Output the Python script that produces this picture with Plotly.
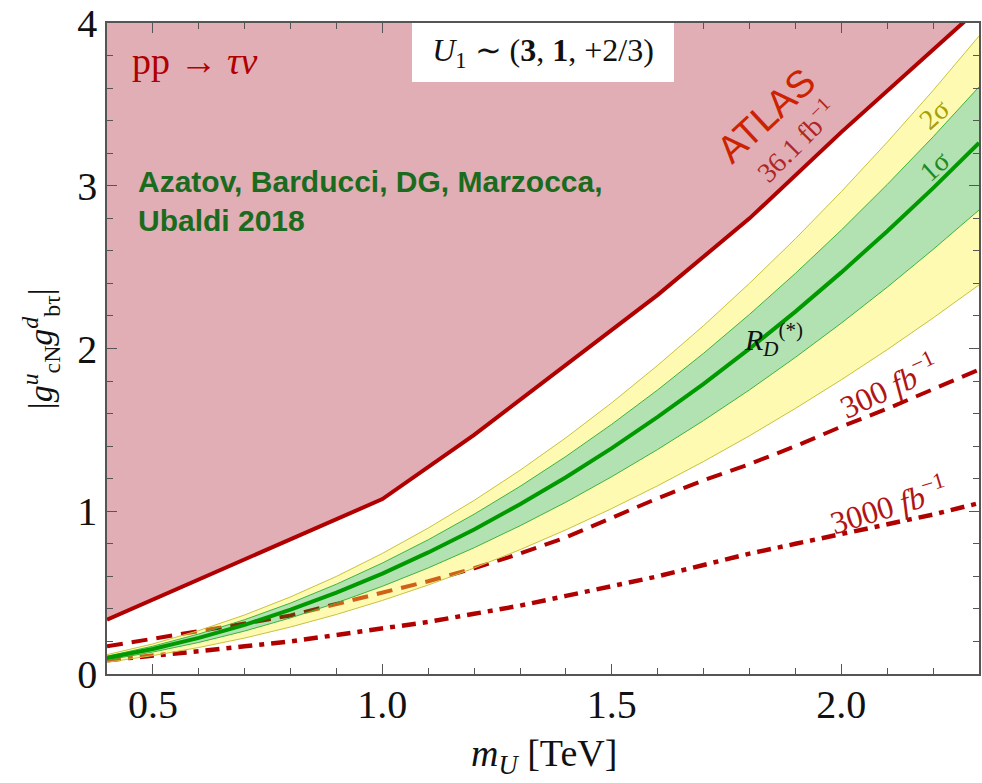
import plotly.graph_objects as go

# ---------------- data ----------------
mass = [0.4, 0.5, 0.6, 0.7, 0.8, 0.9, 1.0, 1.1, 1.2, 1.3, 1.4, 1.5, 1.6, 1.7, 1.8, 1.9, 2.0, 2.1, 2.2, 2.3]
rd_central = [0.099, 0.154, 0.222, 0.302, 0.395, 0.500, 0.617, 0.747, 0.888, 1.043, 1.209, 1.388, 1.580, 1.783, 1.999, 2.227, 2.468, 2.721, 2.986, 3.264]
rd_1s_up = [0.109, 0.171, 0.246, 0.334, 0.436, 0.552, 0.682, 0.825, 0.982, 1.153, 1.337, 1.535, 1.746, 1.971, 2.210, 2.462, 2.728, 3.008, 3.301, 3.608]
rd_1s_lo = [0.086, 0.135, 0.194, 0.264, 0.345, 0.437, 0.539, 0.652, 0.776, 0.911, 1.056, 1.213, 1.380, 1.558, 1.746, 1.946, 2.156, 2.377, 2.609, 2.851]
rd_2s_up = [0.119, 0.185, 0.267, 0.363, 0.474, 0.600, 0.741, 0.897, 1.067, 1.252, 1.452, 1.667, 1.897, 2.141, 2.401, 2.675, 2.964, 3.268, 3.586, 3.920]
rd_2s_lo = [0.072, 0.113, 0.163, 0.221, 0.289, 0.366, 0.452, 0.547, 0.651, 0.764, 0.886, 1.017, 1.157, 1.306, 1.464, 1.632, 1.808, 1.993, 2.188, 2.391]
proj_300 = [0.17, 0.215, 0.26, 0.31, 0.36, 0.43, 0.50, 0.57, 0.65, 0.74, 0.84, 0.96, 1.08, 1.19, 1.29, 1.40, 1.52, 1.63, 1.75, 1.87]
proj_3000 = [0.085, 0.11, 0.14, 0.17, 0.20, 0.24, 0.28, 0.32, 0.37, 0.42, 0.48, 0.54, 0.60, 0.67, 0.74, 0.80, 0.86, 0.92, 0.98, 1.05]

atlas_m = [0.4, 1.0, 1.2, 1.4, 1.6, 1.8, 2.0, 2.3]
atlas_g = [0.334, 1.075, 1.47, 1.90, 2.33, 2.80, 3.33, 4.09]
atlas_top = [4.5] * len(atlas_m)

x_ticks = [0.5, 1.0, 1.5, 2.0]
x_ticktext = ["0.5", "1.0", "1.5", "2.0"]
y_ticks = [0, 1, 2, 3, 4]

# ---------------- styling ----------------
DARKRED = "#b00000"
SERIF = "Liberation Serif"
SANS = "Liberation Sans"

W, H = 982, 783
ML, MR, MT, MB = 107, 1, 15, 109
X0, X1, Y0, Y1 = 0.4, 2.3, 0.0, 4.0005
PW, PH = W - ML - MR, H - MT - MB


def xd(px):
    return X0 + (px - ML) * (X1 - X0) / PW


def yd(py):
    return Y1 - (py - MT) * (Y1 - Y0) / PH


def xp(px):
    return (px - ML) / PW


def yp(py):
    return (H - MB - py) / PH


fig = go.Figure()

# excluded region (ATLAS 36.1 fb^-1)
fig.add_trace(go.Scatter(x=atlas_m, y=atlas_g, mode="lines", line=dict(width=0, color=DARKRED),
                         showlegend=False, hoverinfo="skip"))
fig.add_trace(go.Scatter(x=atlas_m, y=atlas_top, mode="lines", line=dict(width=0),
                         fill="tonexty", fillcolor="#e0aeb4", showlegend=False, hoverinfo="skip"))
fig.add_trace(go.Scatter(x=atlas_m, y=atlas_g, mode="lines", line=dict(width=4, color=DARKRED),
                         showlegend=False))

# projections
fig.add_trace(go.Scatter(x=mass, y=proj_300, mode="lines",
                         line=dict(width=4, color=DARKRED, dash="16px,9px"), showlegend=False))
fig.add_trace(go.Scatter(x=mass, y=proj_3000, mode="lines",
                         line=dict(width=4.5, color=DARKRED, dash="14px,7px,5px,7px"), showlegend=False))

# R_D(*) bands
YEL_FILL = "rgba(255,242,60,0.4)"
YEL_LINE = "#c9c23c"
GRN_FILL = "rgba(0,160,0,0.3)"
GRN_LINE = "#3cb43c"
fig.add_trace(go.Scatter(x=mass, y=rd_2s_lo, mode="lines", line=dict(width=1, color=YEL_LINE),
                         showlegend=False))
fig.add_trace(go.Scatter(x=mass, y=rd_1s_lo, mode="lines", line=dict(width=1, color=GRN_LINE),
                         fill="tonexty", fillcolor=YEL_FILL, showlegend=False))
fig.add_trace(go.Scatter(x=mass, y=rd_1s_up, mode="lines", line=dict(width=1, color=GRN_LINE),
                         fill="tonexty", fillcolor=GRN_FILL, showlegend=False))
fig.add_trace(go.Scatter(x=mass, y=rd_2s_up, mode="lines", line=dict(width=1, color=YEL_LINE),
                         fill="tonexty", fillcolor=YEL_FILL, showlegend=False))
fig.add_trace(go.Scatter(x=mass, y=rd_central, mode="lines", line=dict(width=4, color="#009a00"),
                         showlegend=False))

# ---------------- annotations ----------------
ann = []


def add_text(px, py, text, size, color, family=SERIF, angle=0, xanchor="center", yanchor="middle", **kw):
    ann.append(dict(x=xd(px), y=yd(py), xref="x", yref="y", text=text, showarrow=False,
                    font=dict(family=family, size=size, color=color), textangle=angle,
                    xanchor=xanchor, yanchor=yanchor, **kw))


add_text(130, 53, "pp → <i>τν</i>", 38, DARKRED, xanchor="left")
add_text(136, 195, "<b>Azatov, Barducci, DG, Marzocca,<br>Ubaldi 2018</b>", 30, "#1b6b1f",
         family=SANS, xanchor="left", align="left")
add_text(768, 108, "ATLAS", 38, "#cc2200", family=SANS, angle=-43)
add_text(798, 134, "36.1 fb<sup>−1</sup>", 28, "#b02525", angle=-45)
add_text(936, 108, "2σ", 28, "#a89f00", angle=-42)
add_text(936, 160, "1σ", 28, "#1e8b1e", angle=-42)
add_text(775, 335, "<i>R</i><sub><i>D</i></sub><sup>(*)</sup>", 30, "#111111")
add_text(890, 381, "300 <i>fb</i><sup>−1</sup>", 32, "#b01515", angle=-25)
add_text(890, 502, "3000 <i>fb</i><sup>−1</sup>", 32, "#b01515", angle=-17)

# model box
ann.append(dict(x=xp((413 + 675) / 2), y=yp(44.5), xref="paper", yref="paper",
                text="<i>U</i><sub>1</sub> ∼ (<b>3</b>, <b>1</b>, +2/3)", showarrow=False,
                font=dict(family=SERIF, size=32, color="#111111"), bgcolor="white",
                width=244, height=41, borderpad=9, borderwidth=0,
                xanchor="center", yanchor="middle"))

# axis titles
ann.append(dict(x=xp(41), y=yp(345), xref="paper", yref="paper", showarrow=False,
                text="|<i>g</i><sup><i>u</i></sup><sub>cN</sub><i>g</i><sup><i>d</i></sup><sub>bτ</sub>|",
                font=dict(family=SERIF, size=34, color="#111111"), textangle=-90,
                xanchor="center", yanchor="middle"))
ann.append(dict(x=xp(545), y=yp(757), xref="paper", yref="paper", showarrow=False,
                text="<i>m</i><sub><i>U</i></sub> [TeV]",
                font=dict(family=SERIF, size=38, color="#111111"),
                xanchor="center", yanchor="middle"))

axis_common = dict(showline=True, linecolor="#555555", linewidth=1.5, mirror="ticks",
                   ticks="inside", ticklen=10, tickwidth=1.3, tickcolor="#555555",
                   showgrid=False, zeroline=False, ticklabeloverflow="allow",
                   tickfont=dict(family=SERIF, size=40, color="#111111"))

fig.update_layout(
    width=W, height=H,
    margin=dict(l=ML, r=MR, t=MT, b=MB, pad=0),
    paper_bgcolor="white", plot_bgcolor="white",
    showlegend=False,
    annotations=ann,
    xaxis=dict(range=[X0, X1], tickvals=x_ticks, ticktext=x_ticktext, ticklabelstandoff=-6,
               minor=dict(ticks="inside", dtick=0.1, tick0=0.4, ticklen=6, tickcolor="#555555", tickwidth=1.2),
               **axis_common),
    yaxis=dict(range=[Y0, Y1], tickvals=y_ticks,
               minor=dict(ticks="inside", dtick=0.2, tick0=0, ticklen=6, tickcolor="#555555", tickwidth=1.2),
               **axis_common),
)

fig.write_html("out.html")
